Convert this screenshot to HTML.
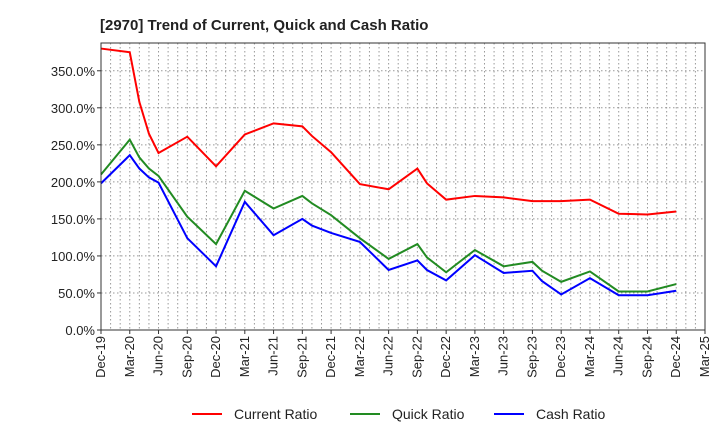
<!DOCTYPE html>
<html><head><meta charset="utf-8"><style>
body{margin:0;background:#fff;font-family:"Liberation Sans",sans-serif;}
svg text{font-family:"Liberation Sans",sans-serif;}
</style></head><body>
<svg id="chart" width="720" height="440" xmlns="http://www.w3.org/2000/svg">
<text x="100" y="30" font-size="15" font-weight="bold" fill="#222">[2970]  Trend of Current, Quick and Cash Ratio</text>
<g id="grid"></g><g id="series"></g><g id="axes"></g>
<g>
<line x1="192" y1="414" x2="222" y2="414" stroke="#f00" stroke-width="2"/>
<text x="234" y="419" font-size="14" fill="#222">Current Ratio</text>
<line x1="350" y1="414" x2="380" y2="414" stroke="#228b22" stroke-width="2"/>
<text x="392" y="419" font-size="14" fill="#222">Quick Ratio</text>
<line x1="494" y1="414" x2="524" y2="414" stroke="#00f" stroke-width="2"/>
<text x="536" y="419" font-size="14" fill="#222">Cash Ratio</text>
</g>
</svg>
<script>
const months=[0,3,4,5,6,9,12,15,18,21,22,24,27,30,33,34,36,39,42,45,46,48,51,54,57,60];
const currentRatio=[380,375,308,265,239,261,221,264,279,275,262,240,197,190,218,198,176,181,179,174,174,174,176,157,156,160];
const quickRatio=[210,257,233,218,208,153,116,188,164,181,171,155,124,96,116,98,78,108,86,92,80,65,79,52,52,62];
const cashRatio=[198,236,218,206,199,124,86,173,128,150,141,131,119,81,94,81,67,101,77,80,66,48,70,47,47,53];
const yTicks=[0,50,100,150,200,250,300,350];
const xLabels=["Dec-19","Mar-20","Jun-20","Sep-20","Dec-20","Mar-21","Jun-21","Sep-21","Dec-21","Mar-22","Jun-22","Sep-22","Dec-22","Mar-23","Jun-23","Sep-23","Dec-23","Mar-24","Jun-24","Sep-24","Dec-24","Mar-25"];
const L=101,R=705,T=43,B=330,NM=63,YMAX=387.5;
const x=m=>L+(R-L)*m/NM;
const y=v=>B-(B-T)*v/YMAX;
const NS="http://www.w3.org/2000/svg";
function mk(tag,attrs,parent){const e=document.createElementNS(NS,tag);for(const k in attrs)e.setAttribute(k,attrs[k]);parent.appendChild(e);return e;}
const grid=document.getElementById('grid'),axes=document.getElementById('axes'),ser=document.getElementById('series');
for(let m=1;m<NM;m++){const g=mk('line',{x1:x(m),x2:x(m),y1:T,y2:B,stroke:'#999','stroke-dasharray':'1.5,2.5','stroke-width':1},grid);

}
yTicks.forEach(v=>{
 if(v>0){const g=mk('line',{x1:L,x2:R,y1:y(v),y2:y(v),stroke:'#999','stroke-dasharray':'1.5,2.5'},grid);
 
 }
 const t=mk('text',{x:L-6,y:y(v)+5,'text-anchor':'end','font-size':13,fill:'#222'},axes);t.textContent=v.toFixed(1)+'%';
 
 
 const tk=mk('line',{x1:L-4,x2:L,y1:y(v),y2:y(v),stroke:'#333'},axes);
 
 
});
xLabels.forEach((s,i)=>{const xx=x(i*3);
 const t=mk('text',{x:xx+4,y:B+6,'text-anchor':'end','font-size':13,fill:'#222',transform:`rotate(-90 ${xx+4} ${B+6})`},axes);t.textContent=s;
 
 
 const tk=mk('line',{x1:xx,x2:xx,y1:B,y2:B+4,stroke:'#333'},axes);
 
 });
const frame=mk('rect',{x:L,y:T,width:R-L,height:B-T,fill:'none',stroke:'#333','stroke-width':1},axes);


[[currentRatio,'#f00','current-ratio-line'],[quickRatio,'#228b22','quick-ratio-line'],[cashRatio,'#00f','cash-ratio-line']].forEach(([d,c,n])=>{
 const p=mk('polyline',{points:d.map((v,i)=>x(months[i])+','+y(v)).join(' '),fill:'none',stroke:c,'stroke-width':2},ser);
 
 
});
</script>
</body></html>
